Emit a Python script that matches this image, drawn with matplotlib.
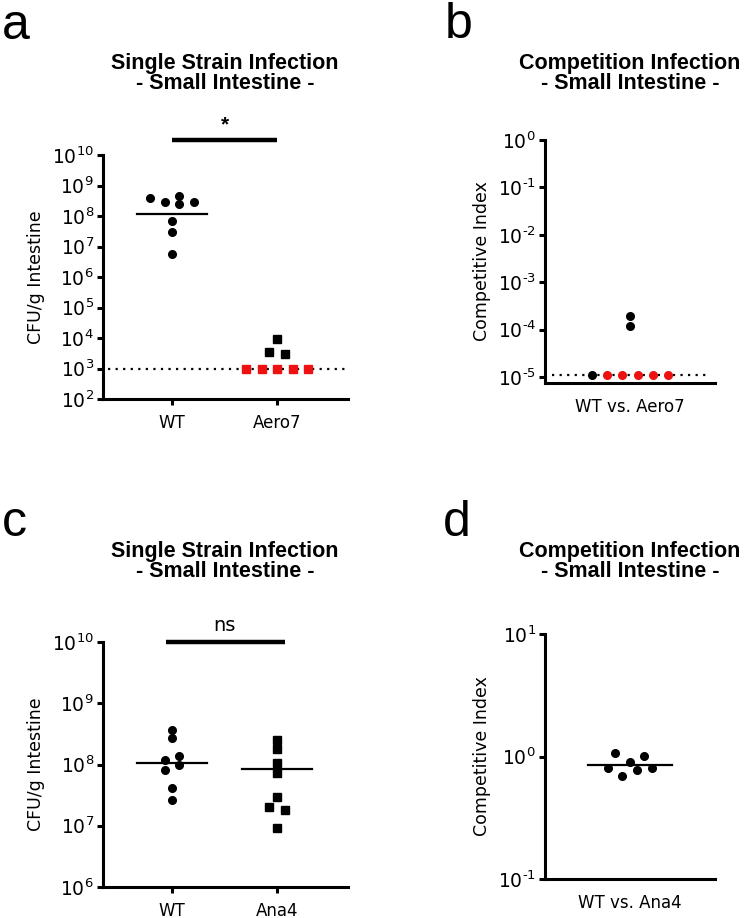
import numpy as np
import matplotlib
matplotlib.use("Agg")
import matplotlib.pyplot as plt
from matplotlib.ticker import FixedLocator, FuncFormatter, NullLocator

plt.rcParams["font.family"] = ["DejaVu Sans"]
plt.rcParams["mathtext.fontset"] = "custom"
plt.rcParams["mathtext.rm"] = "Liberation Sans"
plt.rcParams["mathtext.default"] = "regular"
plt.rcParams["axes.unicode_minus"] = False

RED = "#ee1111"

# panel a: single strain infection, WT vs Aero7 (CFU/g)
a_wt = [4.0e8, 2.8e8, 4.5e8, 2.4e8, 2.8e8, 7.0e7, 2.9e7, 5.6e6]
a_wt_jit = [-0.21, -0.07, 0.07, 0.07, 0.21, 0.0, 0.0, 0.0]
a_wt_center = 1.2e8
a_aero = [9.0e3, 3.5e3, 3.0e3]
a_aero_jit = [0.0, -0.075, 0.075]
a_aero_lod = [1e3, 1e3, 1e3, 1e3, 1e3]
a_aero_lod_jit = [-0.295, -0.147, 0.0, 0.148, 0.297]
a_limit = 1e3
a_groups = ["WT", "Aero7"]

# panel b: competition infection, WT vs Aero7
b_ci = [1.1e-5, 1.9e-4, 1.2e-4]
b_ci_jit = [-0.45, 0.0, 0.0]
b_ci_lod = [1.1e-5, 1.1e-5, 1.1e-5, 1.1e-5, 1.1e-5]
b_ci_lod_jit = [-0.27, -0.09, 0.09, 0.27, 0.45]
b_limit = 1.1e-5
b_group = "WT vs. Aero7"

# panel c: single strain infection, WT vs Ana4
c_wt = [3.7e8, 2.7e8, 1.18e8, 1.39e8, 1.0e8, 8.1e7, 4.1e7, 2.6e7]
c_wt_jit = [0.0, 0.0, -0.07, 0.07, 0.07, -0.07, 0.0, 0.0]
c_wt_center = 1.07e8
c_ana = [2.5e8, 1.8e8, 1.07e8, 7.3e7, 2.9e7, 2.0e7, 1.8e7, 9.1e6]
c_ana_jit = [0.0, 0.0, 0.0, 0.0, 0.0, -0.075, 0.075, 0.0]
c_ana_center = 8.5e7
c_groups = ["WT", "Ana4"]

# panel d: competition infection, WT vs Ana4
d_ci = [1.06, 1.01, 0.91, 0.80, 0.77, 0.81, 0.69]
d_ci_jit = [-0.18, 0.17, 0.0, -0.26, 0.08, 0.26, -0.09]
d_center = 0.86
d_group = "WT vs. Ana4"


def pow_label(v, pos):
    k = int(round(np.log10(v)))
    s = str(abs(k)) if k >= 0 else "\u2010" + str(abs(k))
    return r"$10^{%s}$" % s


def style_axes(ax, decades):
    ax.set_yscale("log")
    for s in ["top", "right"]:
        ax.spines[s].set_visible(False)
    for s in ["left", "bottom"]:
        ax.spines[s].set_linewidth(2.2)
    ax.yaxis.set_major_locator(FixedLocator([10.0 ** k for k in decades]))
    ax.yaxis.set_major_formatter(FuncFormatter(pow_label))
    ax.yaxis.set_minor_locator(NullLocator())
    ax.tick_params(width=2.2, length=4.5)
    ax.tick_params(axis="y", labelsize=13.5, pad=2)
    ax.tick_params(axis="x", labelsize=12, pad=6)


def title(fig, xc, y, line1):
    # y is the baseline of the second line, in pixels from the top
    fig.text(xc, 1 - y / 918, line1 + "\n- Small Intestine -", ha="center",
             va="baseline", ma="center", linespacing=0.92,
             fontsize=15.5, fontweight="bold", family="Liberation Sans")


def letter(fig, x, y, s):
    fig.text(x / 750, 1 - y / 918, s, ha="left", va="baseline",
             fontsize=36, family="Liberation Sans")


fig = plt.figure(figsize=(7.5, 9.18), dpi=100)

mk = dict(linestyle="none", markersize=5.5, clip_on=False, zorder=3)
dots = (0, (1, 2.4))

# ---- a ----
ax = fig.add_axes([103 / 750, 1 - 399 / 918, 245 / 750, 244 / 918])
style_axes(ax, range(2, 11))
ax.set_ylim(1e2, 1e10)
ax.set_xlim(-0.657, 1.676)
ax.axhline(a_limit, xmin=0.02, xmax=0.995, color="black", lw=1.6,
           linestyle=dots, zorder=1)
ax.plot(np.array(a_wt_jit), a_wt, "o", color="black", **mk)
ax.plot(1 + np.array(a_aero_jit), a_aero, "s", color="black", **mk)
ax.plot(1 + np.array(a_aero_lod_jit), a_aero_lod, "s", color=RED, **mk)
ax.plot([-0.33, 0.33], [a_wt_center] * 2, color="black", lw=1.6)
ax.plot([0, 1], [10 ** 10.5] * 2, color="black", lw=3.2, clip_on=False,
        solid_capstyle="butt")
ax.text(0.5, 10 ** 10.66, "*", ha="center", va="bottom", fontsize=15,
        fontweight="bold", family="Liberation Sans")
ax.set_xticks([0, 1])
ax.set_xticklabels(a_groups)
ax.set_ylabel("CFU/g Intestine", fontsize=12.5, labelpad=5)
title(fig, 225 / 750, 89, "Single Strain Infection")
letter(fig, 2, 39, "a")

# ---- b ----
ax = fig.add_axes([545 / 750, 1 - 383 / 918, 170 / 750, 243 / 918])
style_axes(ax, range(-5, 1))
ax.set_ylim(10 ** -5.125, 1)
ax.set_xlim(-1, 1)
ax.axhline(b_limit, xmin=0.04, xmax=0.96, color="black", lw=1.6,
           linestyle=dots, zorder=1)
ax.plot(b_ci_jit, b_ci, "o", color="black", **mk)
ax.plot(b_ci_lod_jit, b_ci_lod, "o", color=RED, **mk)
ax.set_xticks([0])
ax.set_xticklabels([b_group])
ax.tick_params(axis="x", length=0, pad=11)
ax.set_ylabel("Competitive Index", fontsize=12.5, labelpad=5)
title(fig, 630 / 750, 89, "Competition Infection")
letter(fig, 445, 38, "b")

# ---- c ----
ax = fig.add_axes([103 / 750, 1 - 887 / 918, 245 / 750, 245 / 918])
style_axes(ax, range(6, 11))
ax.set_ylim(1e6, 1e10)
ax.set_xlim(-0.657, 1.676)
ax.plot(np.array(c_wt_jit), c_wt, "o", color="black", **mk)
ax.plot(1 + np.array(c_ana_jit), c_ana, "s", color="black", **mk)
ax.plot([-0.33, 0.33], [c_wt_center] * 2, color="black", lw=1.6)
ax.plot([0.67, 1.33], [c_ana_center] * 2, color="black", lw=1.6)
ax.plot([-0.06, 1.076], [1e10] * 2, color="black", lw=3.2, clip_on=False,
        solid_capstyle="butt")
ax.text(0.5, 10 ** 10.12, "ns", ha="center", va="bottom", fontsize=14)
ax.set_xticks([0, 1])
ax.set_xticklabels(c_groups)
ax.set_ylabel("CFU/g Intestine", fontsize=12.5, labelpad=5)
title(fig, 225 / 750, 577, "Single Strain Infection")
letter(fig, 2, 536, "c")

# ---- d ----
ax = fig.add_axes([545 / 750, 1 - 879 / 918, 170 / 750, 245 / 918])
style_axes(ax, [-1, 0, 1])
ax.set_ylim(0.1, 10)
ax.set_xlim(-1, 1)
ax.plot(d_ci_jit, d_ci, "o", color="black", **mk)
ax.plot([-0.49, 0.49], [d_center] * 2, color="black", lw=1.6)
ax.set_xticks([0])
ax.set_xticklabels([d_group])
ax.tick_params(axis="x", length=0, pad=11)
ax.set_ylabel("Competitive Index", fontsize=12.5, labelpad=5)
title(fig, 630 / 750, 577, "Competition Infection")
letter(fig, 443, 536, "d")

fig.savefig("out.png", dpi=100)
